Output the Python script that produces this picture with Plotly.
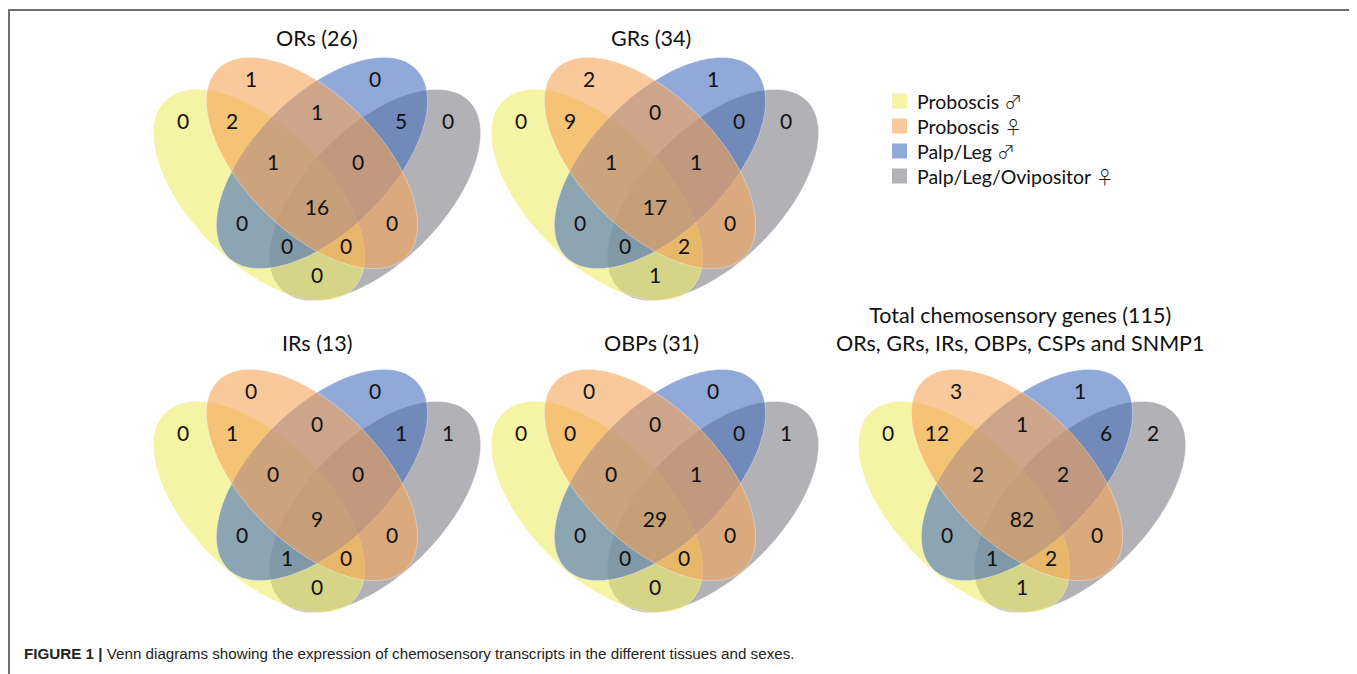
import numpy as np
import plotly.graph_objects as go

W, H = 1357, 674
OFF = 8  # page body margin

# ---------------- data ----------------
set_names = ["Proboscis", "Proboscis", "Palp/Leg", "Palp/Leg/Ovipositor"]
set_sex = ["\u2642", "\u2640", "\u2642", "\u2640"]
region_keys = ["1000", "0100", "0010", "0001", "1100", "0110", "0011",
               "1110", "0111", "1111", "1010", "1011", "1101", "0101", "1001"]
titles = ["ORs (26)", "GRs (34)", "IRs (13)", "OBPs (31)",
          "Total chemosensory genes (115)<br>ORs, GRs, IRs, OBPs, CSPs and SNMP1"]
ors_counts = [0, 1, 0, 0, 2, 1, 5, 1, 0, 16, 0, 0, 0, 0, 0]
grs_counts = [0, 2, 1, 0, 9, 0, 0, 1, 1, 17, 0, 0, 2, 0, 1]
irs_counts = [0, 0, 0, 1, 1, 0, 1, 0, 0, 9, 0, 1, 0, 0, 0]
obps_counts = [0, 0, 0, 1, 0, 0, 0, 0, 1, 29, 0, 0, 0, 0, 0]
total_counts = [0, 3, 1, 2, 12, 1, 6, 2, 2, 82, 0, 1, 2, 0, 1]
caption_bold = "FIGURE 1 |"
caption_text = " Venn diagrams showing the expression of chemosensory transcripts in the different tissues and sexes."

# ---------------- layout / style ----------------
all_counts = [ors_counts, grs_counts, irs_counts, obps_counts, total_counts]
centers = [(317, 195), (655, 195), (317, 507), (655, 507), (1022, 507)]
title_pos = [(317, 38), (651, 38), (317, 343), (651, 343), (1020, 329)]

label_off = {
    "1000": (-134, -71), "0100": (-66, -113), "0010": (58, -113), "0001": (131, -71),
    "1100": (-85, -71), "0110": (0, -80), "0011": (84, -71),
    "1110": (-44, -30), "0111": (41, -30), "1111": (0, 15),
    "1010": (-75, 31), "1011": (-30, 54), "1101": (29, 54), "0101": (75, 31),
    "1001": (0, 83),
}

ell_a, ell_b = 133, 68
ell_geom = [(-58, 0, 45), (-5, -32, 45), (5, -32, -45), (58, 0, -45)]
alpha = 0.6
base_rgb = [(238, 235, 103), (245, 163, 88), (72, 112, 190), (127, 125, 132)]
legend_rgb = [(245, 243, 164), (249, 200, 155), (145, 169, 216), (178, 177, 181)]
draw_order = [3, 0, 2, 1]

num_font = "Lato, 'Open Sans', sans-serif"
txt_col = "#111111"


def ellipse_path(cx, cy, a, b, ang):
    t = np.linspace(0, 2 * np.pi, 160)
    th = np.deg2rad(ang)
    x = cx + a * np.cos(t) * np.cos(th) - b * np.sin(t) * np.sin(th)
    y = cy + a * np.cos(t) * np.sin(th) + b * np.sin(t) * np.cos(th)
    return "M " + " L ".join(f"{xi:.2f},{yi:.2f}" for xi, yi in zip(x, y)) + " Z"


fig = go.Figure()
shapes = []
annotations = []

for (cx, cy), counts, title, (tx, ty) in zip(centers, all_counts, titles, title_pos):
    for si in draw_order:
        dx, dy, ang = ell_geom[si]
        r, g, b = base_rgb[si]
        shapes.append(dict(type="path", xref="x", yref="y",
                           path=ellipse_path(cx + dx, cy + dy, ell_a, ell_b, ang),
                           fillcolor=f"rgba({r},{g},{b},{alpha})",
                           line=dict(color="rgba(255,255,255,0.35)", width=1),
                           layer="below"))
    xs = [cx + label_off[k][0] for k in region_keys]
    ys = [cy + label_off[k][1] for k in region_keys]
    fig.add_trace(go.Scatter(x=xs, y=ys, mode="text", text=[str(v) for v in counts],
                             textfont=dict(family=num_font, size=21, color=txt_col),
                             textposition="middle center", hoverinfo="skip", showlegend=False))
    annotations.append(dict(x=tx, y=ty, xref="x", yref="y", text=title, showarrow=False,
                            xanchor="center", yanchor="middle",
                            font=dict(family=num_font, size=21.5, color=txt_col)))

# legend
leg_x, leg_y0, leg_dy, sq = 892, 101, 25, 15
for i, (name, sx, (r, g, b)) in enumerate(zip(set_names, set_sex, legend_rgb)):
    yy = leg_y0 + i * leg_dy
    shapes.append(dict(type="rect", xref="x", yref="y", x0=leg_x, x1=leg_x + sq,
                       y0=yy - sq / 2, y1=yy + sq / 2, fillcolor=f"rgb({r},{g},{b})",
                       line=dict(width=0)))
    label = (f"{name} <span style=\"font-family:'Noto Sans CJK JP','DejaVu Sans';"
             f"font-size:18px;font-weight:300\">{sx}</span>")
    annotations.append(dict(x=leg_x + sq + 8, y=yy, xref="x", yref="y", text=label,
                            showarrow=False, xanchor="left", yanchor="middle",
                            font=dict(family=num_font, size=19.5, color=txt_col)))

# border (left, top, right)
bc = "#707070"
shapes += [
    dict(type="line", xref="x", yref="y", x0=9, x1=9, y0=9, y1=H + 5, line=dict(color=bc, width=2)),
    dict(type="line", xref="x", yref="y", x0=8, x1=1355, y0=10, y1=10, line=dict(color=bc, width=2)),
    dict(type="line", xref="x", yref="y", x0=1354, x1=1354, y0=9, y1=H + 5, line=dict(color=bc, width=2)),
]

# caption
annotations.append(dict(x=22, y=653, xref="x", yref="y",
                        text=f"<b>{caption_bold}</b>{caption_text}", showarrow=False,
                        xanchor="left", yanchor="middle",
                        font=dict(family="'Liberation Sans Narrow', 'Arial Narrow', 'Liberation Sans', sans-serif",
                                  size=15.2, color="#222222")))

fig.update_layout(
    width=W - OFF, height=H - OFF, margin=dict(l=0, r=0, t=0, b=0),
    paper_bgcolor="white", plot_bgcolor="white",
    xaxis=dict(range=[OFF, W], visible=False, fixedrange=True),
    yaxis=dict(range=[H, OFF], visible=False, fixedrange=True),
    shapes=shapes, annotations=annotations, showlegend=False,
)

fig.write_html("out.html")
